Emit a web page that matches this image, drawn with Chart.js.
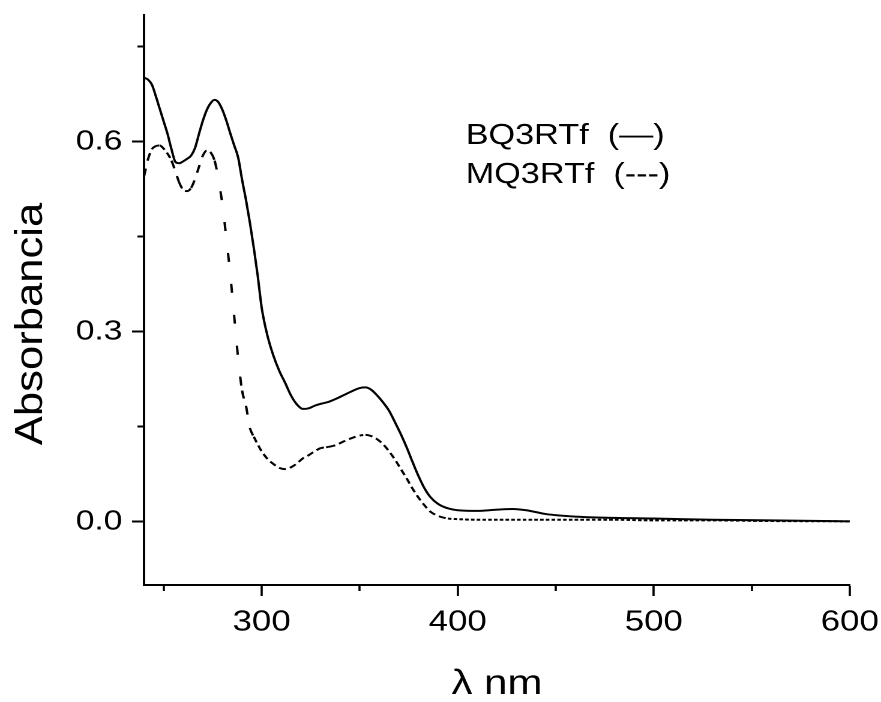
<!DOCTYPE html>
<html>
<head>
<meta charset="utf-8">
<script src="https://cdn.jsdelivr.net/npm/chart.js@4/dist/chart.umd.min.js"></script>
<style>
  html, body { margin: 0; padding: 0; background: #fff; }
  #wrap { width: 881px; height: 702px; overflow: hidden; background: #fff; }
</style>
</head>
<body>
<div id="wrap"><canvas id="c" width="734" height="702" style="display:block;width:881px;height:702px"></canvas></div>
<script>
// Wavelength grid (nm)
const wavelengths = [240, 242, 244, 246, 248, 250, 252, 254, 256, 258, 260, 262, 264, 266, 268, 270, 272, 274, 276, 278,
  280, 282, 284, 286, 288, 290, 292, 294, 296, 298, 300, 303, 306, 309, 312, 315, 318, 321, 324, 327,
  330, 334, 338, 342, 346, 350, 353, 356, 359, 362, 365, 368, 371, 374, 377, 380, 383, 386, 390, 395,
  400, 410, 420, 428, 435, 445, 460, 480, 500, 530, 560, 600];

// Absorbance of BQ3RTf (solid line)
const bq3rtf = [0.701, 0.698, 0.690, 0.672, 0.652, 0.632, 0.612, 0.588, 0.568, 0.566, 0.569, 0.573, 0.578, 0.590, 0.612, 0.633, 0.650, 0.661, 0.666, 0.662,
  0.650, 0.633, 0.613, 0.594, 0.575, 0.540, 0.508, 0.472, 0.432, 0.388, 0.338, 0.293, 0.262, 0.238, 0.219, 0.199, 0.185, 0.178, 0.179, 0.183,
  0.186, 0.189, 0.194, 0.200, 0.206, 0.211, 0.212, 0.208, 0.199, 0.188, 0.175, 0.157, 0.138, 0.117, 0.094, 0.072, 0.053, 0.039, 0.028, 0.021,
  0.018, 0.017, 0.019, 0.020, 0.018, 0.012, 0.008, 0.006, 0.005, 0.003, 0.002, 0.0005];

// Absorbance of MQ3RTf (dashed line)
const mq3rtf = [0.545, 0.572, 0.588, 0.593, 0.594, 0.589, 0.581, 0.570, 0.553, 0.535, 0.524, 0.522, 0.527, 0.541, 0.560, 0.578, 0.586, 0.583, 0.570, 0.540,
  0.500, 0.447, 0.390, 0.324, 0.258, 0.207, 0.183, 0.148, 0.134, 0.122, 0.111, 0.099, 0.091, 0.085, 0.083, 0.086, 0.092, 0.100, 0.105, 0.111,
  0.116, 0.118, 0.121, 0.127, 0.132, 0.136, 0.137, 0.135, 0.130, 0.122, 0.111, 0.098, 0.083, 0.068, 0.052, 0.038, 0.026, 0.016, 0.009, 0.005,
  0.004, 0.003, 0.003, 0.003, 0.003, 0.003, 0.003, 0.003, 0.002, 0.002, 0.001, 0.0005];

const seriesNames = ['BQ3RTf', 'MQ3RTf'];
const seriesMarks = ['(\u2014)', '(---)'];

// Axis tick positions
const xMajorTicks = [300, 400, 500, 600];
const xMinorTicks = [250, 350, 450, 550];
const yMajorTicks = [0.0, 0.3, 0.6];
const yMinorTicks = [0.15, 0.45, 0.75];

const FONT = "'Liberation Sans', Arial, Helvetica, sans-serif";
const INK = '#000';

const fixedTicks = values => scale => { scale.ticks = values.map(value => ({ value })); };

// Keep the plot frame where the layout padding puts it, regardless of label overhang
const fitX = height => s => { s.height = height; s.paddingLeft = 0; s.paddingRight = 0; };
const fitY = width => s => { s.width = width; s.paddingTop = 0; s.paddingBottom = 0; };

// Text legend: series name followed by a sketch of its line style
const textLegend = {
  id: 'textLegend',
  afterDraw(chart, args, opts) {
    const ctx = chart.ctx;
    ctx.save();
    ctx.fillStyle = INK;
    ctx.font = `${opts.size}px ${FONT}`;
    ctx.textAlign = 'left';
    ctx.textBaseline = 'alphabetic';
    chart.data.datasets.forEach((ds, i) => {
      ctx.fillText(`${ds.label}  ${seriesMarks[i]}`, opts.x, opts.y + i * opts.gap);
    });
    ctx.restore();
  }
};

// Vertical axis caption drawn with its own proportions
const sideTitle = {
  id: 'sideTitle',
  afterDraw(chart, args, opts) {
    const ctx = chart.ctx;
    ctx.save();
    ctx.translate(opts.x, opts.y);
    ctx.rotate(-Math.PI / 2);
    ctx.scale(opts.sx, opts.sy);
    ctx.fillStyle = INK;
    ctx.font = `${opts.size}px ${FONT}`;
    ctx.textAlign = 'center';
    ctx.textBaseline = 'middle';
    ctx.fillText(opts.text, 0, 0);
    ctx.restore();
  }
};

function dashFor(ctx) {
  const dx = Math.abs(ctx.p1.x - ctx.p0.x);
  const dy = Math.abs(ctx.p1.y - ctx.p0.y);
  const s = dy / Math.max(dx, 1e-6);
  if (s > 5.5) return [9, 22];
  if (s > 2.5) return [8, 8];
  if (s > 0.25) return [6, 3.5];
  return [3, 1.8];
}

new Chart(document.getElementById('c'), {
  type: 'line',
  data: {
    datasets: [
      {
        label: seriesNames[0],
        data: wavelengths.map((x, i) => ({ x, y: bq3rtf[i] })),
        borderColor: INK,
        borderWidth: 2,
        pointRadius: 0,
        cubicInterpolationMode: 'monotone',
        fill: false
      },
      {
        label: seriesNames[1],
        data: wavelengths.map((x, i) => ({ x, y: mq3rtf[i] })),
        borderColor: INK,
        borderWidth: 2,
        pointRadius: 0,
        cubicInterpolationMode: 'monotone',
        fill: false,
        segment: { borderDash: dashFor }
      }
    ]
  },
  options: {
    responsive: false,
    devicePixelRatio: 2,
    animation: false,
    events: [],
    layout: { padding: { top: 15, right: 26, bottom: 0, left: 0 } },
    scales: {
      x: {
        type: 'linear',
        position: 'bottom',
        min: 240, max: 600,
        afterBuildTicks: fixedTicks(xMajorTicks),
        afterFit: fitX(117),
        ticks: { padding: 9, color: INK, font: { family: FONT, size: 29 } },
        grid: { drawOnChartArea: false, drawTicks: true, tickLength: 11, tickWidth: 1.8, tickColor: INK },
        border: { display: true, width: 2, color: INK },
        title: {
          display: true, text: '\u03bb nm', color: INK,
          font: { family: FONT, size: 35, lineHeight: 1 }, padding: 0
        }
      },
      xMinor: {
        type: 'linear',
        axis: 'x',
        position: { y: -0.1 },
        min: 240, max: 600,
        afterBuildTicks: fixedTicks(xMinorTicks),
        ticks: { display: false },
        grid: { drawOnChartArea: false, drawTicks: true, tickLength: 6, tickWidth: 1.8, tickColor: INK },
        border: { display: false }
      },
      y: {
        type: 'linear',
        position: 'left',
        min: -0.1, max: 0.8,
        afterBuildTicks: fixedTicks(yMajorTicks),
        afterFit: fitY(120),
        ticks: {
          padding: 8, color: INK, font: { family: FONT, size: 28 },
          callback: v => Number(v).toFixed(1)
        },
        grid: { drawOnChartArea: false, drawTicks: true, tickLength: 10, tickWidth: 2, tickColor: INK },
        border: { display: true, width: 2, color: INK },
        title: { display: false }
      },
      yMinor: {
        type: 'linear',
        axis: 'y',
        position: { x: 240 },
        min: -0.1, max: 0.8,
        afterBuildTicks: fixedTicks(yMinorTicks),
        ticks: { display: false },
        grid: { drawOnChartArea: false, drawTicks: true, tickLength: 5.5, tickWidth: 2, tickColor: INK },
        border: { display: false }
      }
    },
    plugins: {
      legend: { display: false },
      tooltip: { enabled: false },
      textLegend: { x: 388, y: 144, gap: 39, size: 28.5 },
      sideTitle: { text: 'Absorbancia', x: 26, y: 324, size: 40, sx: 1.09, sy: 0.82 }
    }
  },
  plugins: [textLegend, sideTitle]
});
</script>
</body>
</html>
